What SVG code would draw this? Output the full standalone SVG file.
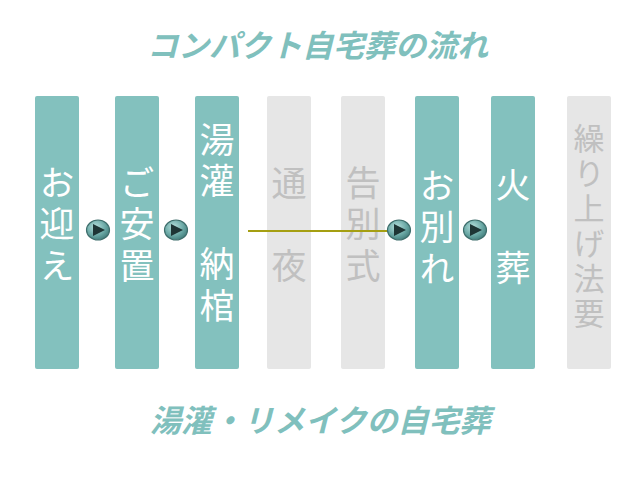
<svg xmlns="http://www.w3.org/2000/svg" width="639" height="480" viewBox="0 0 639 480">
<defs>
<style>
.title{font-family:"Noto Sans CJK JP","Noto Sans CJK SC",sans-serif;font-size:31px;font-weight:700;font-style:italic;fill:#80c0bd;}
.col-on{fill:#83c1be;}
.col-off{fill:#e6e6e6;}
.v{font-family:"Noto Sans CJK JP","Noto Sans CJK SC",sans-serif;writing-mode:vertical-rl;}
.t-on{font-size:35px;fill:#ffffff;letter-spacing:6.5px;}
.t-off{font-size:35px;fill:#c0c0c0;letter-spacing:6.5px;}
.t-small{font-size:31px;fill:#c0c0c0;letter-spacing:4px;}
.btn{fill:url(#btnGrad);stroke:#3e6e6c;stroke-width:1.2;}
.tri{fill:#1e3535;}
.line{stroke:#a59f12;stroke-width:2;fill:none;}
</style>
<radialGradient id="btnGrad" cx="0.4" cy="0.35" r="0.7">
<stop offset="0" stop-color="#b6e0dd"/>
<stop offset="0.6" stop-color="#6aa8a5"/>
<stop offset="1" stop-color="#3f7a78"/>
</radialGradient>
<g id="arrowBtn">
<ellipse class="btn" cx="0" cy="0" rx="11.5" ry="10"/>
<polygon class="tri" points="-5,-6 7,0 -5,6"/>
</g>
</defs>
<rect width="639" height="480" fill="#ffffff"/>
<text class="title" x="147" y="57">コンパクト自宅葬の流れ</text>
<text class="title" x="150" y="432">湯灌・リメイクの自宅葬</text>
<g id="node-omukae">
<rect class="col-on" x="35" y="96" width="44" height="273" rx="2"/>
<text class="v t-on" x="57" y="165">お迎え</text>
</g>
<g id="node-goanchi">
<rect class="col-on" x="115" y="96" width="44" height="273" rx="2"/>
<text class="v t-on" x="137" y="165">ご安置</text>
</g>
<g id="node-yukan">
<rect class="col-on" x="195" y="96" width="44" height="273" rx="2"/>
<text class="v t-on" x="217" y="122">湯灌　納棺</text>
</g>
<g id="node-tsuya">
<rect class="col-off" x="267" y="96" width="44" height="273" rx="2"/>
<text class="v t-off" x="289" y="165">通　夜</text>
</g>
<g id="node-kokubetsu">
<rect class="col-off" x="341" y="96" width="44" height="273" rx="2"/>
<text class="v t-off" x="363" y="165">告別式</text>
</g>
<g id="node-owakare">
<rect class="col-on" x="415" y="96" width="44" height="273" rx="2"/>
<text class="v t-on" x="437" y="168">お別れ</text>
</g>
<g id="node-kaso">
<rect class="col-on" x="491" y="96" width="44" height="273" rx="2"/>
<text class="v t-on" x="513" y="167">火　葬</text>
</g>
<g id="node-kuriage">
<rect class="col-off" x="567" y="96" width="44" height="273" rx="2"/>
<text class="v t-small" x="589" y="123">繰り上げ法要</text>
</g>
<g id="connectors">
<line class="line" x1="248" y1="231" x2="389" y2="231"/>
<use href="#arrowBtn" x="98" y="230"/>
<use href="#arrowBtn" x="176" y="230"/>
<use href="#arrowBtn" x="399" y="230"/>
<use href="#arrowBtn" x="475" y="230"/>
</g>
</svg>
